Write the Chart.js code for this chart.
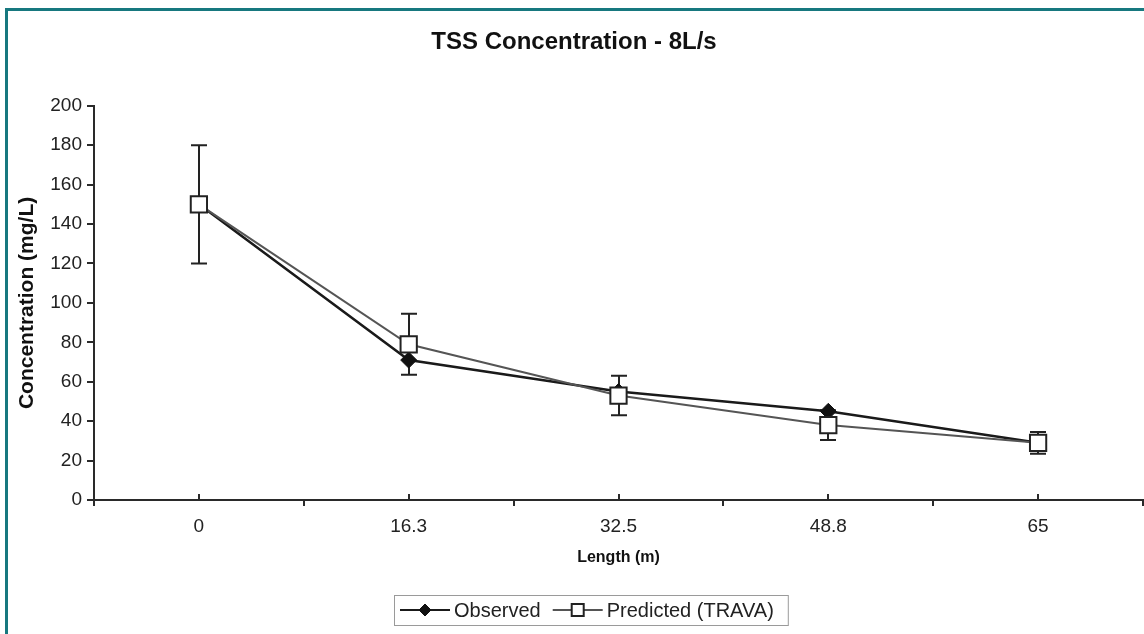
<!DOCTYPE html>
<html>
<head>
<meta charset="utf-8">
<title>TSS Concentration - 8L/s</title>
<script src="https://cdn.jsdelivr.net/npm/chart.js@4.4.1/dist/chart.umd.min.js"></script>
<style>
  html, body { margin: 0; padding: 0; background: #fff; overflow: hidden; }
  #wrap { position: relative; width: 1144px; height: 634px; overflow: hidden; }
  #frame {
    position: absolute; left: 5px; top: 8px; right: -10px; bottom: -10px;
    border-top: 3px solid #17787f; border-left: 3px solid #17787f;
    pointer-events: none;
  }
</style>
</head>
<body>
<div id="wrap">
  <canvas id="chart" width="1144" height="634"></canvas>
  <div id="frame"></div>
</div>
<script>
// Data
const lengths = ['0', '16.3', '32.5', '48.8', '65'];
const observed = [150, 71, 55, 45, 29];
const predicted = [150, 79, 53, 38, 29];
const predictedError = [30, 15.5, 10, 7.5, 5.5];
const yRange = [0, 200];
const yStep = 20;

const FONT = '"Liberation Sans", Arial, sans-serif';
const AXIS = '#2a2a2a';

// Plugins
const errorBars = {
  id: 'errorBars',
  beforeDatasetsDraw: (chart) => {
    const { ctx, scales: { x, y } } = chart;
    ctx.save();
    ctx.strokeStyle = '#222';
    ctx.lineWidth = 2;
    predicted.forEach((v, i) => {
      const px = Math.round(x.getPixelForValue(i));
      const top = y.getPixelForValue(v + predictedError[i]);
      const bot = y.getPixelForValue(v - predictedError[i]);
      ctx.beginPath();
      ctx.moveTo(px, top); ctx.lineTo(px, bot);
      ctx.moveTo(px - 8, top); ctx.lineTo(px + 8, top);
      ctx.moveTo(px - 8, bot); ctx.lineTo(px + 8, bot);
      ctx.stroke();
    });
    ctx.restore();
  }
};

// small inward ticks on the category centres, like the excel axis
const categoryTicks = {
  id: 'categoryTicks',
  beforeDatasetsDraw: (chart) => {
    const { ctx, scales: { x }, chartArea } = chart;
    ctx.save();
    ctx.strokeStyle = AXIS;
    ctx.lineWidth = 2;
    lengths.forEach((_, i) => {
      const px = Math.round(x.getPixelForValue(i));
      ctx.beginPath();
      ctx.moveTo(px, chartArea.bottom);
      ctx.lineTo(px, chartArea.bottom - 6);
      ctx.stroke();
    });
    ctx.restore();
  }
};

const drawMarker = (ctx, style, x, y, r) => {
  ctx.beginPath();
  if (style === 'rectRot') {
    ctx.moveTo(x, y - r); ctx.lineTo(x + r, y); ctx.lineTo(x, y + r); ctx.lineTo(x - r, y);
    ctx.closePath();
  } else {
    ctx.rect(x - r, y - r, 2 * r, 2 * r);
  }
  ctx.fill();
  ctx.stroke();
};

const boxLegend = {
  id: 'boxLegend',
  afterDraw: (chart) => {
    const { ctx } = chart;
    const left = 394, top = 595, height = 30;
    const cy = top + height / 2;
    ctx.save();
    ctx.font = `20px ${FONT}`;
    ctx.textBaseline = 'middle';
    let cx = left + 6;
    chart.data.datasets.forEach((ds) => {
      ctx.strokeStyle = ds.borderColor;
      ctx.lineWidth = 2;
      ctx.beginPath();
      ctx.moveTo(cx, cy); ctx.lineTo(cx + 50, cy);
      ctx.stroke();
      ctx.fillStyle = ds.pointBackgroundColor;
      ctx.strokeStyle = ds.pointBorderColor;
      ctx.lineWidth = ds.pointStyle === 'rect' ? 2 : 1;
      drawMarker(ctx, ds.pointStyle, cx + 25, cy, 6);
      ctx.fillStyle = '#222';
      ctx.fillText(ds.label, cx + 54, cy + 1);
      cx += 54 + ctx.measureText(ds.label).width + 12;
    });
    ctx.strokeStyle = '#9a9a9a';
    ctx.lineWidth = 1;
    ctx.strokeRect(left + 0.5, top + 0.5, cx - left + 2, height);
    ctx.restore();
  }
};

// Chart
new Chart(document.getElementById('chart'), {
  type: 'line',
  data: {
    labels: lengths,
    datasets: [{
      label: 'Observed',
      data: observed,
      borderColor: '#1a1a1a',
      borderWidth: 2.5,
      pointStyle: 'rectRot',
      pointRadius: 8,
      pointBackgroundColor: '#111',
      pointBorderColor: '#111',
      pointBorderWidth: 1,
      tension: 0,
      order: 2
    }, {
      label: 'Predicted (TRAVA)',
      data: predicted,
      borderColor: '#555',
      borderWidth: 2,
      pointStyle: 'rect',
      pointRadius: 11.5,
      pointBackgroundColor: '#fff',
      pointBorderColor: '#222',
      pointBorderWidth: 2,
      tension: 0,
      order: 1
    }]
  },
  options: {
    responsive: false,
    animation: false,
    layout: { autoPadding: false, padding: { left: 5, right: 1, top: 0, bottom: 67 } },
    plugins: {
      legend: { display: false },
      tooltip: { enabled: false },
      title: {
        display: true,
        text: 'TSS Concentration - 8L/s',
        color: '#111',
        font: { family: FONT, size: 24, weight: 'bold' },
        padding: { top: 28, bottom: 49 }
      }
    },
    scales: {
      x: {
        offset: true,
        grid: { offset: true, drawOnChartArea: false, tickLength: 6, color: AXIS, lineWidth: 2 },
        border: { color: AXIS, width: 2 },
        ticks: { color: '#222', font: { family: FONT, size: 19 }, padding: 9 },
        title: {
          display: true,
          text: 'Length (m)',
          color: '#111',
          font: { family: FONT, size: 16, weight: 'bold' },
          padding: { top: 1, bottom: 0 }
        },
        // axis runs right to the edge of the picture
        afterFit: (scale) => { scale.paddingLeft = 0; scale.paddingRight = 0; }
      },
      y: {
        min: yRange[0],
        max: yRange[1],
        grid: { drawOnChartArea: false, tickLength: 7, color: AXIS, lineWidth: 2 },
        border: { color: AXIS, width: 2 },
        ticks: { stepSize: yStep, color: '#222', font: { family: FONT, size: 19 }, padding: 5 },
        title: {
          display: true,
          text: 'Concentration (mg/L)',
          color: '#111',
          font: { family: FONT, size: 21, weight: 'bold' },
          padding: { top: 10, bottom: 0 }
        },
        afterFit: (scale) => { scale.width = 89; }
      }
    }
  },
  plugins: [errorBars, categoryTicks, boxLegend]
});
</script>
</body>
</html>
